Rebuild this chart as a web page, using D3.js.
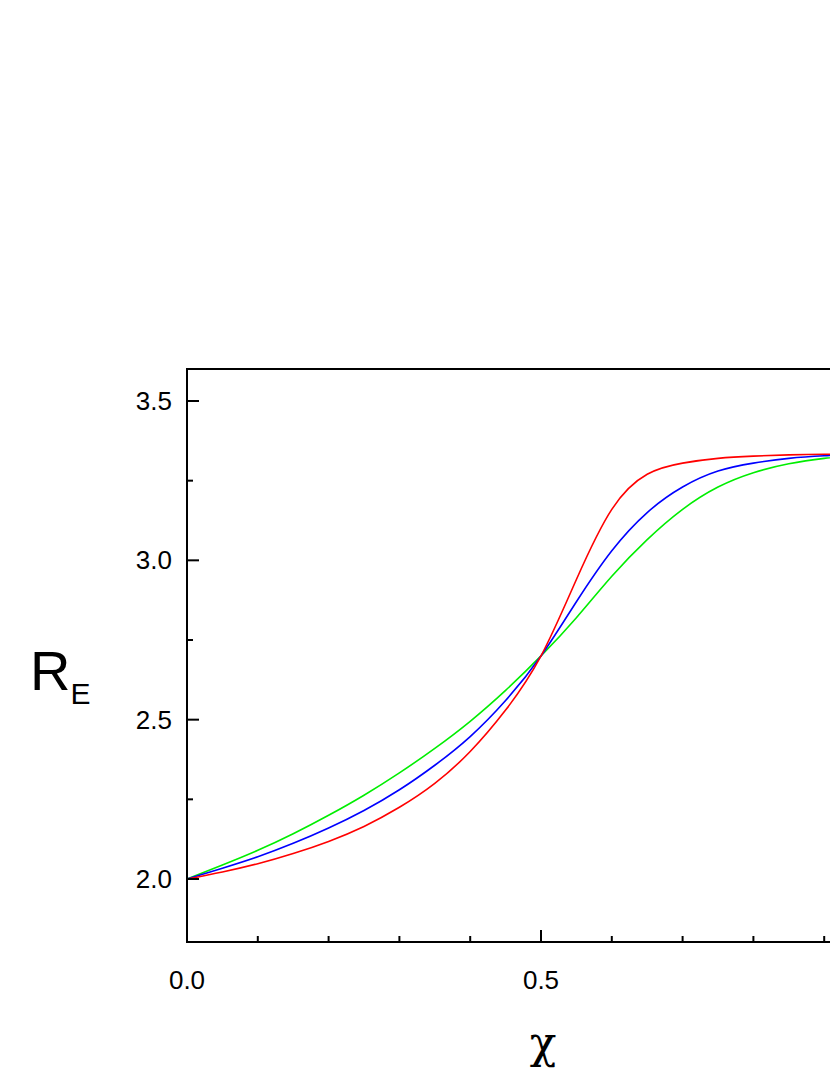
<!DOCTYPE html>
<html><head><meta charset="utf-8">
<script src="https://cdn.jsdelivr.net/npm/d3@7"></script>
<style>body{margin:0;background:#fff;overflow:hidden}</style>
</head><body><svg id="c" width="830" height="1075"></svg>
<script>
var xs = [0, 0.05, 0.1, 0.15, 0.2, 0.25, 0.3, 0.35, 0.4, 0.45, 0.5, 0.55, 0.6, 0.65, 0.7, 0.75, 0.8, 0.85, 0.9, 0.95, 1.0];
var red   = [2.0, 2.022, 2.048, 2.08, 2.118, 2.165, 2.225, 2.30, 2.40, 2.53, 2.70, 2.94, 3.16, 3.27, 3.305, 3.32, 3.327, 3.331, 3.333, 3.333, 3.333];
var blue  = [2.0, 2.034, 2.07, 2.112, 2.16, 2.215, 2.28, 2.357, 2.447, 2.56, 2.70, 2.87, 3.03, 3.15, 3.23, 3.28, 3.305, 3.32, 3.328, 3.332, 3.333];
var green = [2.0, 2.044, 2.09, 2.142, 2.20, 2.263, 2.333, 2.41, 2.495, 2.592, 2.70, 2.82, 2.95, 3.065, 3.16, 3.23, 3.275, 3.303, 3.32, 3.33, 3.333];
var series = [{c: '#00ee00', v: green}, {c: '#0000ff', v: blue}, {c: '#ff0000', v: red}];
var xMajor = [0, 0.5];
var xMinor = [0.1, 0.2, 0.3, 0.4, 0.6, 0.7, 0.8, 0.9];
var yMajor = [2.0, 2.5, 3.0, 3.5];
var yMinor = [2.25, 2.75, 3.25];

var svg = d3.select('#c');
var x = d3.scaleLinear().domain([0, 1]).range([187, 895]);
var y = d3.scaleLinear().domain([2, 3.5]).range([879, 401]);
var plotTop = 369, plotBot = 942;

var line = d3.line().x(function(d, i) { return x(xs[i]); }).y(function(d) { return y(d); }).curve(d3.curveNatural);
series.forEach(function(s) {
    svg.append('path').attr('d', line(s.v)).attr('fill', 'none').attr('stroke', s.c).attr('stroke-width', 1.6);
});

svg.append('rect').attr('x', 187).attr('y', plotTop).attr('width', 708).attr('height', plotBot - plotTop)
    .attr('fill', 'none').attr('stroke', '#000').attr('stroke-width', 2);

xMajor.forEach(function(v) {
    svg.append('line').attr('x1', x(v)).attr('x2', x(v)).attr('y1', plotBot).attr('y2', plotBot - 12).attr('stroke', '#000').attr('stroke-width', 2);
    svg.append('text').attr('x', x(v)).attr('y', plotBot + 47).attr('text-anchor', 'middle')
        .attr('font-family', 'Liberation Sans, Arial').attr('font-size', 26).text(v.toFixed(1));
});
xMinor.forEach(function(v) {
    svg.append('line').attr('x1', x(v)).attr('x2', x(v)).attr('y1', plotBot).attr('y2', plotBot - 6).attr('stroke', '#000').attr('stroke-width', 2);
});
yMajor.forEach(function(v) {
    svg.append('line').attr('x1', 187).attr('x2', 199).attr('y1', y(v)).attr('y2', y(v)).attr('stroke', '#000').attr('stroke-width', 2);
    svg.append('text').attr('x', 172).attr('y', y(v) + 9).attr('text-anchor', 'end')
        .attr('font-family', 'Liberation Sans, Arial').attr('font-size', 26).text(v.toFixed(1));
});
yMinor.forEach(function(v) {
    svg.append('line').attr('x1', 187).attr('x2', 193).attr('y1', y(v)).attr('y2', y(v)).attr('stroke', '#000').attr('stroke-width', 2);
});

var yl = svg.append('text').attr('x', 30).attr('y', 690).attr('font-family', 'Liberation Sans, Arial').attr('font-size', 56);
yl.append('tspan').text('R');
yl.append('tspan').attr('font-size', 30).attr('dy', 14).text('E');
svg.append('text').attr('x', 543).attr('y', 1058).attr('text-anchor', 'middle')
    .attr('font-family', 'DejaVu Serif, serif').attr('font-size', 44).text('χ');
</script></body></html>
